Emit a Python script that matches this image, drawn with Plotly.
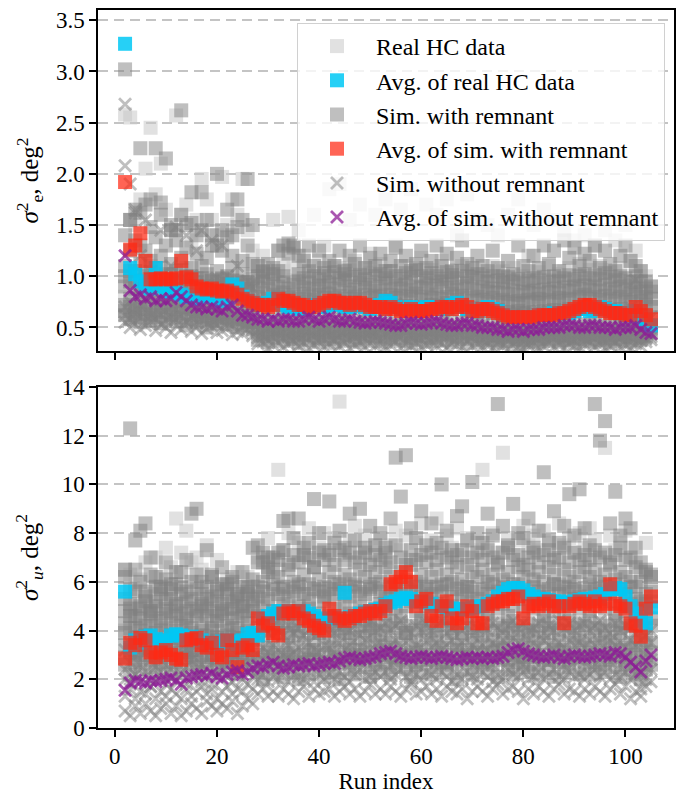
import plotly.graph_objects as go
from plotly.subplots import make_subplots

runs = list(range(2, 106))

# ---------------- top panel (sigma_e^2) ----------------
avg_real_top = [3.27, 1.08, 1.02, 0.95, 0.90, 0.88, 1.08, 0.90, 0.86, 0.85,
 0.84, 0.82, 0.80, 0.80, 0.78, 0.80, 0.82, 0.80, 0.78, 0.76,
 0.78, 0.92, 0.88, 0.80, 0.76, 0.74, 0.72, 0.72, 0.74, 0.78,
 0.75, 0.72, 0.70, 0.70, 0.68, 0.70, 0.70, 0.72, 0.72, 0.70,
 0.72, 0.74, 0.72, 0.70, 0.70, 0.72, 0.72, 0.70, 0.68, 0.70,
 0.72, 0.76, 0.74, 0.70, 0.68, 0.68, 0.70, 0.68, 0.68, 0.70,
 0.70, 0.70, 0.68, 0.70, 0.72, 0.74, 0.70, 0.68, 0.66, 0.66,
 0.68, 0.70, 0.68, 0.66, 0.62, 0.60, 0.60, 0.60, 0.60, 0.60,
 0.60, 0.62, 0.62, 0.62, 0.64, 0.64, 0.64, 0.64, 0.66, 0.68,
 0.68, 0.66, 0.68, 0.70, 0.68, 0.66, 0.66, 0.64, 0.62, 0.62,
 0.66, 0.60, 0.58, 0.52]

avg_rem_top = [1.92, 1.26, 1.30, 1.42, 1.15, 0.97, 0.97, 0.98, 0.97, 0.97,
 0.98, 1.15, 0.99, 0.97, 0.90, 0.88, 0.87, 0.88, 0.86, 0.85,
 0.86, 0.84, 0.82, 0.78, 0.76, 0.74, 0.72, 0.72, 0.70, 0.72,
 0.78, 0.76, 0.76, 0.74, 0.72, 0.72, 0.70, 0.70, 0.72, 0.74,
 0.76, 0.76, 0.74, 0.74, 0.72, 0.74, 0.74, 0.72, 0.70, 0.70,
 0.70, 0.68, 0.70, 0.68, 0.66, 0.66, 0.68, 0.66, 0.66, 0.66,
 0.68, 0.68, 0.70, 0.70, 0.68, 0.70, 0.72, 0.70, 0.66, 0.66,
 0.68, 0.68, 0.66, 0.64, 0.62, 0.60, 0.60, 0.60, 0.60, 0.60,
 0.60, 0.62, 0.62, 0.62, 0.62, 0.64, 0.64, 0.66, 0.68, 0.70,
 0.72, 0.72, 0.70, 0.68, 0.66, 0.64, 0.64, 0.64, 0.62, 0.62,
 0.70, 0.66, 0.62, 0.58]

avg_norem_top = [1.20, 0.86, 0.80, 0.82, 0.78, 0.80, 0.76, 0.78, 0.76, 0.78,
 0.84, 0.80, 0.76, 0.72, 0.70, 0.70, 0.68, 0.70, 0.68, 0.66,
 0.70, 0.72, 0.66, 0.62, 0.62, 0.60, 0.58, 0.58, 0.56, 0.58,
 0.56, 0.58, 0.58, 0.56, 0.56, 0.58, 0.60, 0.58, 0.56, 0.58,
 0.60, 0.58, 0.56, 0.56, 0.58, 0.56, 0.55, 0.54, 0.55, 0.56,
 0.55, 0.54, 0.53, 0.52, 0.52, 0.54, 0.55, 0.54, 0.53, 0.54,
 0.55, 0.56, 0.54, 0.53, 0.52, 0.52, 0.54, 0.54, 0.52, 0.52,
 0.50, 0.50, 0.50, 0.48, 0.48, 0.46, 0.48, 0.48, 0.46, 0.48,
 0.48, 0.48, 0.50, 0.50, 0.50, 0.50, 0.52, 0.52, 0.52, 0.50,
 0.50, 0.52, 0.52, 0.50, 0.50, 0.50, 0.48, 0.50, 0.50, 0.50,
 0.52, 0.48, 0.45, 0.44]

sim_rem_top_a = [.62, .58, .60, .55, .63, .57, .60, .54, .58, .62,
 .56, .60, .52, .58, .55, .61, .50, .57, .54, .59,
 .53, .58, .50, .55, .52, .48, .38, .42, .36, .40,
 .44, .37, .41, .39, .35, .43, .38, .40, .36, .42,
 .39, .35, .41, .37, .43, .38, .36, .40, .42, .37,
 .41, .36, .39, .43, .37, .40, .35, .38, .42, .36,
 .40, .37, .43, .38, .36, .41, .39, .35, .42, .38,
 .36, .40, .38, .35, .41, .37, .39, .34, .38, .36,
 .40, .35, .39, .37, .42, .36, .38, .40, .35, .39,
 .37, .41, .36, .38, .40, .35, .39, .37, .41, .36,
 .40, .38, .42, .45]
sim_rem_top_b = [.72, .78, .70, .75, .68, .80, .74, .70, .77, .72,
 .76, .70, .74, .68, .72, .66, .70, .64, .68, .70,
 .66, .70, .64, .62, .66, .60, .55, .58, .52, .56,
 .54, .58, .52, .56, .55, .50, .57, .53, .55, .51,
 .56, .52, .55, .58, .53, .51, .56, .54, .50, .55,
 .53, .57, .51, .54, .52, .55, .50, .53, .56, .52,
 .55, .51, .54, .57, .52, .50, .55, .53, .51, .54,
 .52, .50, .48, .53, .50, .47, .51, .49, .48, .52,
 .50, .53, .48, .51, .49, .52, .50, .54, .51, .49,
 .53, .51, .55, .50, .52, .49, .54, .51, .50, .52,
 .55, .50, .48, .52]
sim_rem_top_c = [.90, .95, .88, .85, .92, .98, .86, .90, .84, .93,
 .88, .95, .86, .90, .82, .87, .80, .85, .83, .88,
 .80, .84, .82, .78, .85, .76, .72, .74, .70, .75,
 .72, .76, .70, .73, .71, .75, .69, .72, .74, .70,
 .73, .70, .75, .72, .69, .74, .71, .70, .73, .68,
 .71, .68, .72, .70, .67, .71, .69, .66, .70, .68,
 .72, .69, .71, .74, .68, .70, .72, .67, .69, .65,
 .68, .66, .64, .67, .63, .65, .62, .66, .64, .63,
 .65, .62, .66, .64, .67, .63, .66, .68, .65, .70,
 .72, .68, .70, .66, .69, .67, .65, .68, .64, .66,
 .70, .66, .62, .60]
sim_rem_top_d = [1.10, 1.25, 1.05, 1.30, 1.00, 1.15, 1.08, 1.20, 1.02, 1.12,
 1.05, 1.18, 1.00, 1.08, 0.98, 1.10, 1.02, 0.96, 1.05, 0.98,
 1.00, 1.08, 0.95, 1.02, 0.94, 0.98, 0.90, 0.95, 0.88, 0.92,
 0.90, 0.94, 0.88, 0.92, 0.95, 0.89, 0.93, 0.87, 0.91, 0.90,
 0.94, 0.88, 0.92, 0.96, 0.90, 0.87, 0.93, 0.89, 0.91, 0.86,
 0.90, 0.93, 0.87, 0.91, 0.88, 0.92, 0.86, 0.90, 0.89, 0.93,
 0.88, 0.91, 0.95, 0.89, 0.92, 0.87, 0.90, 0.93, 0.88, 0.86,
 0.89, 0.85, 0.88, 0.84, 0.87, 0.83, 0.86, 0.82, 0.85, 0.84,
 0.86, 0.83, 0.87, 0.85, 0.88, 0.84, 0.89, 0.86, 0.90, 0.88,
 0.91, 0.87, 0.90, 0.86, 0.92, 0.88, 0.85, 0.90, 0.87, 0.84,
 0.90, 0.85, 0.80, 0.78]
sim_rem_top_e = [3.02, 1.55, 1.65, 2.25, 1.70, 1.75, 2.25, 1.60, 2.15, 1.50,
 1.45, 2.62, 1.50, 1.82, 1.40, 1.82, 1.55, 1.30, 2.00, 1.45,
 1.65, 1.40, 1.75, 1.55, 1.95, 1.50, 1.10, 1.05, 1.12, 1.08,
 1.25, 1.30, 1.32, 1.28, 1.20, 1.15, 1.30, 1.10, 1.25, 1.08,
 1.15, 1.10, 1.25, 1.05, 1.20, 1.12, 1.30, 1.08, 1.18, 1.10,
 1.22, 1.05, 1.15, 1.28, 1.10, 1.20, 1.05, 1.12, 1.25, 1.08,
 1.15, 1.30, 1.10, 1.22, 1.05, 1.18, 1.35, 1.12, 1.08, 1.20,
 1.10, 1.05, 1.25, 1.08, 1.00, 1.15, 1.02, 1.30, 1.10, 1.05,
 1.20, 1.08, 1.30, 1.12, 1.25, 1.05, 1.35, 1.18, 1.28, 1.10,
 1.22, 1.15, 1.30, 1.08, 1.25, 1.12, 1.05, 1.20, 1.30, 1.15,
 1.10, 1.05, 0.95, 0.90]
sim_rem_top_f = [.66, .70, .64, .68, .72, .62, .67, .65, .70, .63,
 .68, .64, .70, .62, .66, .60, .64, .58, .63, .61,
 .60, .64, .58, .61, .57, .55, .46, .50, .44, .48,
 .47, .50, .45, .48, .44, .47, .50, .45, .48, .46,
 .49, .45, .47, .50, .46, .44, .48, .46, .49, .45,
 .47, .50, .45, .48, .46, .49, .44, .47, .45, .48,
 .46, .49, .47, .44, .48, .45, .50, .46, .44, .47,
 .45, .43, .46, .42, .45, .43, .41, .44, .42, .45,
 .43, .46, .42, .44, .47, .43, .45, .42, .46, .44,
 .45, .43, .47, .44, .42, .46, .43, .45, .44, .47,
 .48, .44, .46, .50]
sim_rem_top_g = [1.00, 1.05, .96, 1.12, .98, 1.04, .95, 1.08, .97, 1.02,
 .96, 1.06, .92, 1.00, .94, .98, .90, .95, .92, .97,
 .93, .96, .90, .94, .88, .92, .80, .84, .78, .82,
 .80, .84, .79, .82, .78, .83, .80, .77, .82, .79,
 .83, .79, .81, .78, .84, .80, .78, .82, .79, .81,
 .80, .77, .82, .79, .81, .78, .80, .83, .77, .80,
 .79, .82, .78, .80, .83, .77, .81, .79, .76, .80,
 .77, .75, .79, .74, .77, .75, .73, .76, .74, .77,
 .75, .78, .74, .77, .75, .79, .76, .78, .77, .80,
 .82, .78, .80, .77, .81, .78, .76, .80, .77, .75,
 .82, .76, .72, .70]
sim_rem_top_h = [1.40, 1.55, 1.35, 1.62, 1.25, 1.48, 1.38, 1.72, 1.30, 1.45,
 1.35, 1.60, 1.28, 1.52, 1.22, 1.45, 1.18, 1.40, 1.30, 1.25,
 1.38, 1.20, 1.48, 1.15, 1.30, 1.12, 1.00, 1.04, 0.98, 1.02,
 1.05, 1.00, 1.22, 1.30, 1.02, 0.98, 1.05, 1.00, 0.97, 1.03,
 1.00, 1.04, 0.98, 1.02, 1.06, 0.99, 1.01, 0.97, 1.04, 1.00,
 1.02, 0.98, 1.05, 1.00, 0.97, 1.03, 0.99, 1.06, 1.00, 0.98,
 1.03, 1.00, 0.97, 1.04, 1.01, 0.98, 1.05, 1.00, 0.99, 1.02,
 0.98, 0.95, 1.00, 0.96, 0.94, 0.99, 0.95, 0.97, 0.93, 0.96,
 0.98, 0.94, 0.99, 0.96, 1.00, 0.95, 0.98, 1.01, 0.97, 1.00,
 1.02, 0.98, 1.01, 0.97, 1.03, 0.99, 0.96, 1.00, 0.98, 0.95,
 1.00, 0.95, 0.88, 0.85]

real_top_a = [.80, .95, 1.05, .88, .75, 1.10, .92, .85, 1.00, .78,
 .95, .82, 1.08, .76, .90, .84, .98, .80, .88, .92,
 .86, .78, .94, .82, .88, .74, .82, .98, .76, 1.02,
 .85, 1.05, .78, .96, .80, 1.10, .88, .75, 1.00, .84,
 .92, .78, 1.08, .85, .98, .80, 1.02, .76, .94, .88,
 1.05, .82, .96, .78, 1.00, .86, .92, 1.08, .80, .95,
 .84, 1.02, .78, .98, .88, 1.06, .80, .94, .86, 1.00,
 .78, .92, .84, 1.04, .76, .90, .82, .98, .74, .88,
 .95, .80, 1.00, .84, .92, .78, 1.05, .86, .96, .82,
 1.02, .88, .94, .80, 1.06, .84, .90, .98, .82, .92,
 .88, .80, .74, .70]
real_top_b = [2.58, 2.55, 1.50, 1.75, 2.05, 2.45, 1.80, 2.10, 1.65, 1.45,
 2.57, 1.60, 1.70, 1.35, 1.55, 1.95, 1.75, 1.55, 1.40, 1.97,
 1.50, 1.75, 1.60, 1.95, 1.45, 1.25, 1.10, 1.20, 1.05, 1.55,
 1.25, 1.12, 1.58, 1.08, 1.45, 1.20, 1.04, 1.60, 1.15, 1.30,
 1.85, 1.10, 1.90, 1.06, 1.55, 1.15, 1.70, 1.08, 1.22, 1.60,
 1.12, 1.75, 1.05, 1.30, 1.65, 1.10, 1.85, 1.08, 1.18, 1.70,
 1.06, 1.60, 1.15, 1.75, 1.04, 1.40, 1.10, 1.80, 1.06, 1.55,
 1.02, 1.50, 1.10, 1.40, 1.05, 1.60, 1.08, 1.75, 1.00, 1.20,
 1.50, 1.04, 1.65, 1.10, 1.55, 1.02, 1.45, 1.08, 1.35, 1.12,
 1.40, 1.06, 1.30, 1.10, 1.45, 1.04, 1.35, 1.08, 1.50, 1.15,
 1.25, 1.05, 1.00, 0.90]

norem_top_a = [.55, .50, .58, .48, .52, .56, .47, .53, .50, .45,
 .52, .48, .55, .46, .50, .44, .49, .52, .45, .47,
 .50, .43, .46, .44, .48, .42, .34, .36, .30, .33,
 .35, .31, .34, .37, .32, .35, .30, .33, .36, .31,
 .34, .37, .32, .35, .30, .33, .36, .31, .34, .32,
 .35, .31, .33, .36, .30, .34, .32, .35, .31, .33,
 .36, .32, .34, .30, .35, .33, .31, .36, .32, .34,
 .31, .33, .30, .34, .32, .29, .33, .31, .30, .32,
 .34, .30, .32, .35, .31, .33, .30, .34, .32, .31,
 .33, .35, .31, .34, .30, .32, .35, .31, .33, .30,
 .34, .32, .36, .38]
norem_top_b = [.70, .75, .68, .72, .78, .66, .74, .70, .65, .72,
 .68, .74, .66, .70, .64, .68, .62, .66, .60, .64,
 .62, .58, .64, .56, .60, .55, .48, .45, .50, .46,
 .48, .45, .50, .47, .44, .49, .46, .48, .45, .50,
 .47, .44, .49, .46, .48, .45, .50, .47, .44, .46,
 .48, .45, .47, .44, .49, .46, .43, .47, .45, .48,
 .46, .49, .44, .47, .45, .48, .46, .43, .47, .45,
 .44, .42, .45, .41, .43, .40, .44, .42, .41, .43,
 .42, .44, .41, .45, .43, .40, .44, .42, .45, .43,
 .44, .42, .46, .43, .45, .41, .44, .42, .43, .41,
 .45, .42, .40, .43]
norem_top_c = [2.68, 1.90, 1.65, 1.20, 1.55, 1.05, 1.00, 1.45, 0.95, 1.10,
 1.48, 0.95, 1.40, 1.00, 1.25, 1.45, 0.92, 1.35, 0.98, 1.30,
 1.00, 0.90, 1.10, 0.85, 0.95, 0.88, 0.68, 0.72, 0.65, 0.70,
 0.66, 0.74, 0.62, 0.70, 0.68, 0.64, 0.72, 0.66, 0.70, 0.63,
 0.68, 0.72, 0.65, 0.70, 0.74, 0.66, 0.69, 0.64, 0.71, 0.67,
 0.70, 0.65, 0.68, 0.73, 0.66, 0.70, 0.64, 0.68, 0.72, 0.65,
 0.69, 0.73, 0.66, 0.70, 0.64, 0.68, 0.71, 0.65, 0.69, 0.66,
 0.64, 0.68, 0.62, 0.66, 0.60, 0.64, 0.61, 0.65, 0.62, 0.60,
 0.63, 0.66, 0.61, 0.65, 0.62, 0.67, 0.63, 0.66, 0.64, 0.68,
 0.66, 0.63, 0.67, 0.64, 0.68, 0.62, 0.65, 0.63, 0.66, 0.70,
 0.96, 0.62, 0.58, 0.60]
norem_top_d = [.62, .58, .64, .60, .56, .62, .59, .63, .57, .60,
 .58, .62, .56, .60, .55, .58, .54, .57, .53, .56,
 .55, .52, .56, .50, .53, .48, .40, .42, .38, .41,
 .42, .39, .41, .43, .38, .41, .39, .42, .40, .38,
 .41, .39, .42, .40, .38, .41, .43, .39, .40, .42,
 .39, .42, .40, .38, .41, .39, .42, .40, .38, .41,
 .40, .38, .41, .43, .39, .40, .42, .38, .41, .39,
 .38, .36, .39, .37, .35, .38, .36, .39, .37, .35,
 .37, .39, .36, .38, .40, .37, .39, .36, .38, .40,
 .39, .37, .40, .38, .36, .39, .37, .40, .38, .36,
 .40, .37, .39, .41]
norem_top_extra_runs = [2, 4]
norem_top_extra_vals = [2.08, 1.62]

# ---------------- bottom panel (sigma_u^2) ----------------
avg_real_bot = [5.60, 3.30, 3.60, 3.50, 3.75, 3.80, 3.65, 3.55, 3.60, 3.80,
 3.85, 3.80, 3.70, 3.75, 3.65, 3.60, 3.50, 3.45, 3.45, 3.55,
 3.60, 3.55, 3.45, 3.60, 3.85, 3.90, 3.80, 4.50, 4.60, 4.70,
 4.80, 4.80, 4.75, 4.80, 4.80, 4.80, 4.70, 4.60, 4.50, 4.45,
 4.50, 4.55, 4.50, 5.55, 4.55, 4.60, 4.70, 4.75, 4.80, 4.85,
 4.90, 5.05, 5.15, 5.20, 5.30, 5.35, 5.30, 5.20, 5.20, 5.15,
 5.10, 5.00, 5.00, 4.95, 4.90, 4.90, 4.85, 4.90, 4.95, 5.00,
 5.00, 5.10, 5.20, 5.40, 5.55, 5.70, 5.75, 5.75, 5.65, 5.50,
 5.40, 5.30, 5.30, 5.25, 5.20, 5.20, 5.15, 5.15, 5.20, 5.25,
 5.30, 5.30, 5.35, 5.40, 5.50, 5.70, 5.75, 5.70, 5.40, 5.00,
 4.70, 4.40, 4.30, 4.95]

avg_rem_bot = [2.85, 3.50, 3.40, 3.70, 3.60, 3.10, 2.90, 3.10, 3.20, 3.00,
 2.85, 2.80, 3.60, 3.65, 3.70, 3.40, 3.30, 3.50, 3.00, 2.90,
 3.60, 3.20, 2.50, 3.30, 3.40, 3.20, 4.50, 4.20, 4.30, 3.90,
 3.80, 4.70, 4.80, 4.70, 4.80, 4.50, 4.40, 4.20, 4.10, 4.00,
 4.90, 4.60, 4.50, 4.40, 4.50, 4.60, 4.60, 4.70, 4.80, 4.70,
 4.80, 5.00, 5.90, 6.00, 6.20, 6.40, 6.00, 5.00, 5.20, 5.30,
 4.60, 4.40, 5.00, 5.20, 4.50, 4.30, 4.50, 5.00, 4.80, 4.30,
 4.30, 5.00, 5.10, 5.20, 5.20, 5.30, 5.30, 5.40, 4.50, 5.00,
 5.10, 5.00, 5.10, 5.20, 5.00, 5.00, 4.30, 5.00, 5.10, 5.20,
 5.10, 5.00, 5.20, 5.00, 5.10, 5.90, 5.10, 5.00, 4.90, 4.30,
 4.20, 3.75, 4.90, 5.40]

avg_norem_bot = [1.55, 1.85, 1.95, 1.90, 1.85, 1.95, 1.90, 1.95, 2.00, 2.05,
 1.95, 1.80, 2.05, 2.10, 2.15, 2.20, 2.15, 2.25, 2.10, 2.05,
 2.20, 2.30, 2.35, 2.20, 2.30, 2.45, 2.55, 2.50, 2.60, 2.70,
 2.55, 2.45, 2.50, 2.60, 2.55, 2.60, 2.65, 2.55, 2.60, 2.65,
 2.70, 2.65, 2.75, 2.85, 2.90, 2.85, 2.80, 2.85, 2.90, 2.95,
 3.05, 3.10, 3.15, 3.05, 2.95, 2.90, 2.85, 2.90, 2.95, 2.90,
 2.85, 2.90, 2.95, 2.90, 2.85, 2.80, 2.85, 2.90, 2.85, 2.90,
 2.85, 2.90, 2.85, 2.90, 2.95, 3.10, 3.20, 3.25, 3.15, 3.05,
 3.00, 2.95, 2.90, 2.95, 3.00, 2.90, 2.85, 2.95, 3.00, 2.95,
 2.90, 2.95, 3.00, 3.05, 3.00, 2.95, 3.10, 3.05, 2.90, 2.70,
 2.50, 2.30, 2.75, 3.00]

sim_rem_bot_a = [2.6, 2.2, 2.8, 2.4, 3.0, 2.5, 2.3, 2.9, 2.6, 2.2,
 2.7, 2.4, 3.0, 2.5, 2.8, 2.3, 2.6, 2.9, 2.4, 2.7,
 2.5, 2.8, 2.2, 2.6, 2.9, 2.4, 2.3, 2.0, 2.6, 2.2,
 2.5, 2.1, 2.7, 2.3, 2.0, 2.6, 2.2, 2.8, 2.4, 2.1,
 2.6, 2.3, 2.0, 2.7, 2.4, 2.2, 2.8, 2.5, 2.1, 2.6,
 2.3, 2.7, 2.2, 2.5, 2.9, 2.4, 2.1, 2.6, 2.3, 2.8,
 2.2, 2.5, 2.7, 2.3, 2.6, 2.0, 2.4, 2.8, 2.2, 2.5,
 2.7, 2.3, 2.6, 2.1, 2.8, 2.4, 2.2, 2.7, 2.5, 2.3,
 2.6, 2.2, 2.8, 2.4, 2.1, 2.7, 2.3, 2.5, 2.9, 2.2,
 2.4, 2.7, 2.2, 2.6, 2.3, 2.8, 2.5, 2.1, 2.6, 2.4,
 2.2, 2.0, 2.4, 2.6]
sim_rem_bot_b = [3.4, 3.1, 3.6, 3.2, 3.8, 3.3, 3.0, 3.5, 3.2, 3.7,
 3.3, 3.6, 3.1, 3.5, 3.2, 3.8, 3.4, 3.0, 3.6, 3.3,
 3.5, 3.1, 3.7, 3.2, 3.4, 3.6, 3.5, 3.8, 3.3, 3.6,
 3.9, 3.4, 3.7, 3.3, 3.8, 3.5, 3.2, 3.6, 3.9, 3.4,
 3.7, 3.3, 3.6, 3.9, 3.4, 3.7, 3.2, 3.5, 3.8, 3.6,
 3.4, 3.8, 3.5, 3.3, 3.7, 3.9, 3.4, 3.6, 3.2, 3.8,
 3.5, 3.7, 3.3, 3.6, 3.9, 3.4, 3.7, 3.2, 3.6, 3.5,
 3.8, 3.4, 3.6, 3.3, 3.7, 3.5, 3.9, 3.4, 3.6, 3.8,
 3.3, 3.7, 3.5, 3.9, 3.4, 3.6, 3.2, 3.8, 3.5, 3.7,
 3.6, 3.3, 3.8, 3.5, 3.7, 3.4, 3.6, 3.9, 3.3, 3.5,
 3.4, 3.2, 3.6, 3.5]
sim_rem_bot_c = [4.3, 4.6, 4.1, 4.5, 4.2, 4.8, 4.4, 4.0, 4.7, 4.3,
 4.6, 4.2, 4.5, 4.1, 4.8, 4.3, 4.6, 4.0, 4.4, 4.7,
 4.2, 4.5, 4.1, 4.6, 4.3, 4.8, 4.6, 5.0, 4.4, 4.8,
 4.5, 5.1, 4.7, 4.4, 5.0, 4.6, 4.9, 4.3, 4.7, 5.2,
 4.6, 4.9, 4.4, 5.1, 4.7, 4.5, 5.0, 4.8, 4.4, 4.9,
 5.1, 4.7, 5.3, 4.9, 4.6, 5.0, 5.2, 4.8, 4.5, 5.0,
 4.7, 5.1, 4.8, 4.5, 5.0, 4.7, 4.9, 5.2, 4.6, 4.8,
 5.0, 4.7, 5.2, 4.9, 5.1, 4.6, 5.0, 5.3, 4.8, 5.1,
 4.9, 5.2, 4.6, 5.0, 4.8, 5.1, 4.7, 5.0, 5.3, 4.9,
 5.1, 4.8, 5.0, 5.3, 4.9, 5.2, 4.7, 5.0, 4.8, 5.1,
 4.6, 4.4, 4.8, 4.5]
sim_rem_bot_d = [5.3, 4.9, 5.6, 5.0, 5.4, 4.8, 5.2, 5.7, 4.9, 5.3,
 5.0, 5.5, 4.8, 5.3, 5.7, 5.1, 4.9, 5.4, 5.2, 4.8,
 5.5, 4.9, 5.3, 5.0, 5.6, 5.2, 5.8, 6.0, 6.4, 5.9,
 6.2, 5.7, 6.5, 6.0, 5.8, 6.3, 5.9, 6.6, 6.1, 5.8,
 6.4, 6.0, 5.7, 6.3, 6.1, 5.9, 6.5, 6.2, 5.8, 6.4,
 6.0, 6.6, 6.2, 5.9, 6.4, 6.1, 6.7, 6.0, 6.3, 5.8,
 6.2, 6.5, 5.9, 6.3, 6.0, 6.6, 6.1, 5.8, 6.4, 6.2,
 6.5, 6.0, 6.3, 6.7, 6.1, 6.4, 5.9, 6.6, 6.2, 6.5,
 6.1, 6.4, 6.0, 6.6, 6.3, 5.9, 6.5, 6.2, 6.0, 6.4,
 6.6, 6.2, 6.5, 6.0, 6.3, 6.7, 6.1, 6.4, 6.2, 6.0,
 5.8, 5.2, 5.5, 5.6]
sim_rem_bot_e = [6.5, 12.3, 7.7, 8.1, 8.4, 7.0, 6.2, 5.8, 6.8, 5.9,
 6.4, 5.8, 6.9, 8.8, 9.0, 6.0, 7.3, 6.3, 5.7, 6.6,
 5.9, 6.2, 5.5, 6.4, 5.8, 7.4, 7.5, 6.8, 7.0, 6.5,
 7.2, 8.5, 8.6, 7.8, 8.6, 7.1, 7.6, 9.4, 8.0, 7.3,
 9.3, 7.6, 8.1, 7.4, 8.8, 7.7, 9.0, 7.2, 8.3, 7.5,
 8.0, 7.4, 8.6, 11.1, 9.5, 11.2, 8.2, 7.8, 8.9, 7.5,
 8.4, 7.6, 10.0, 8.1, 7.3, 8.7, 9.1, 7.7, 10.1, 8.0,
 7.6, 8.8, 7.9, 13.3, 8.3, 7.5, 9.2, 8.0, 7.8, 8.6,
 7.4, 8.1, 10.5, 7.7, 8.9, 7.6, 8.3, 9.6, 7.9, 9.8,
 8.2, 7.5, 13.3, 11.8, 12.6, 8.4, 9.7, 7.9, 8.6, 8.2,
 7.4, 6.8, 6.5, 6.3]
sim_rem_bot_f = [2.9, 3.2, 2.7, 3.0, 3.3, 2.8, 3.1, 2.7, 3.0, 3.2,
 2.8, 3.1, 2.9, 3.2, 2.7, 3.0, 2.9, 3.3, 2.8, 3.1,
 3.0, 2.7, 3.1, 2.8, 3.2, 2.9, 3.0, 2.8, 3.1, 2.9,
 3.0, 2.8, 3.1, 2.9, 2.7, 3.0, 2.8, 3.2, 3.0, 2.7,
 3.1, 2.9, 2.8, 3.0, 3.2, 2.8, 3.0, 2.9, 3.1, 2.8,
 3.0, 3.2, 2.9, 2.8, 3.1, 3.0, 2.7, 3.1, 2.9, 3.0,
 2.8, 3.1, 3.0, 2.7, 3.0, 3.2, 2.9, 3.0, 2.8, 3.1,
 3.0, 2.8, 3.1, 2.9, 3.2, 3.0, 2.8, 3.1, 2.9, 3.0,
 3.1, 2.9, 3.0, 2.8, 3.2, 2.9, 3.1, 2.8, 3.0, 3.1,
 2.9, 3.1, 3.0, 2.8, 3.1, 2.9, 3.0, 3.2, 2.8, 3.0,
 2.9, 2.6, 3.0, 3.1]
sim_rem_bot_g = [3.9, 4.1, 3.7, 4.0, 3.8, 4.2, 3.9, 3.6, 4.1, 3.8,
 4.0, 3.7, 4.2, 3.9, 3.6, 4.0, 3.8, 4.1, 3.7, 4.0,
 3.8, 4.1, 3.9, 3.7, 4.0, 3.8, 4.1, 4.3, 4.0, 4.2,
 4.1, 4.3, 3.9, 4.2, 4.0, 4.4, 4.1, 3.9, 4.3, 4.0,
 4.2, 4.0, 4.3, 4.1, 3.9, 4.4, 4.0, 4.2, 4.1, 4.3,
 4.0, 4.2, 4.4, 4.1, 4.3, 3.9, 4.2, 4.0, 4.4, 4.1,
 4.3, 4.0, 4.2, 4.4, 4.1, 4.2, 3.9, 4.3, 4.1, 4.0,
 4.2, 4.4, 4.0, 4.3, 4.1, 4.2, 4.4, 4.0, 4.2, 4.3,
 4.0, 4.2, 4.4, 4.1, 4.3, 4.0, 4.2, 4.4, 4.1, 4.3,
 4.2, 4.4, 4.1, 4.3, 4.0, 4.2, 4.4, 4.1, 4.3, 4.2,
 4.0, 3.8, 4.1, 4.2]
sim_rem_bot_h = [4.8, 5.1, 4.6, 4.9, 5.2, 4.7, 5.0, 4.5, 5.3, 4.8,
 5.1, 4.7, 5.2, 4.9, 4.6, 5.0, 5.3, 4.8, 4.6, 5.1,
 4.9, 5.2, 4.7, 5.0, 4.8, 5.3, 5.4, 5.6, 5.3, 5.7,
 5.5, 5.8, 5.4, 5.6, 5.9, 5.5, 5.3, 5.7, 5.6, 5.4,
 5.7, 5.5, 5.9, 5.6, 5.4, 5.8, 5.6, 5.5, 5.7, 5.9,
 5.6, 5.4, 5.8, 5.7, 5.5, 5.9, 5.6, 5.8, 5.4, 5.7,
 5.5, 5.8, 5.6, 5.9, 5.4, 5.7, 5.5, 5.8, 5.6, 5.3,
 5.7, 5.5, 5.9, 5.6, 5.8, 5.4, 5.7, 5.9, 5.6, 5.5,
 5.8, 5.6, 5.4, 5.7, 5.9, 5.5, 5.8, 5.6, 5.7, 5.4,
 5.6, 5.9, 5.7, 5.5, 5.8, 5.6, 5.9, 5.7, 5.5, 5.8,
 5.3, 4.9, 5.1, 5.2]
sim_rem_bot_i = [6.2, 5.7, 6.5, 6.0, 5.6, 6.3, 5.8, 5.5, 6.1, 5.7,
 5.9, 6.4, 5.6, 6.0, 6.3, 5.5, 5.8, 6.2, 5.6, 5.9,
 5.7, 6.0, 5.4, 5.8, 5.5, 6.1, 6.8, 7.2, 6.6, 7.0,
 6.9, 7.3, 6.7, 7.1, 6.8, 7.4, 7.0, 6.6, 7.2, 6.9,
 7.1, 6.7, 7.3, 6.9, 7.2, 6.8, 7.0, 7.4, 6.7, 7.1,
 6.9, 7.2, 6.8, 7.5, 7.0, 6.7, 7.3, 6.9, 7.1, 6.8,
 7.2, 6.9, 7.4, 7.0, 6.8, 7.1, 7.3, 6.7, 7.0, 7.2,
 6.9, 7.3, 7.0, 6.8, 7.2, 7.4, 6.9, 7.1, 6.7, 7.0,
 7.2, 6.8, 7.1, 7.3, 6.9, 7.0, 7.4, 6.8, 7.2, 6.9,
 7.1, 6.9, 7.3, 7.0, 7.2, 6.8, 7.1, 7.4, 6.9, 7.0,
 6.6, 6.0, 6.4, 6.2]

real_bot_a = [4.0, 4.6, 5.0, 4.4, 5.2, 4.6, 4.9, 4.2, 4.8, 5.5,
 4.5, 5.1, 4.3, 5.4, 4.7, 4.9, 5.2, 4.4, 5.0, 4.6,
 5.3, 4.5, 4.8, 5.1, 4.4, 4.9, 5.0, 5.6, 5.2, 4.8,
 5.4, 5.0, 5.8, 5.3, 4.9, 5.5, 5.2, 5.7, 5.0, 5.6,
 5.3, 5.9, 5.1, 5.5, 5.8, 5.2, 5.6, 5.4, 5.9, 5.1,
 5.7, 5.3, 5.8, 5.5, 6.0, 5.4, 5.7, 5.2, 5.9, 5.6,
 5.4, 5.8, 5.5, 5.2, 5.7, 5.9, 5.3, 5.6, 5.8, 5.4,
 5.6, 5.9, 5.3, 5.7, 5.5, 6.0, 5.8, 5.4, 5.7, 5.5,
 5.8, 5.4, 5.7, 5.5, 5.9, 5.3, 5.6, 5.8, 5.4, 5.7,
 5.5, 5.8, 5.6, 5.3, 5.9, 5.5, 5.7, 5.4, 5.6, 5.2,
 5.0, 4.6, 5.2, 5.8]
real_bot_b = [6.5, 6.3, 5.9, 6.1, 6.8, 5.5, 7.0, 6.2, 7.4, 6.6,
 8.6, 7.2, 8.1, 6.8, 7.0, 6.5, 7.5, 6.2, 6.9, 5.8,
 6.1, 5.9, 6.4, 5.6, 6.2, 5.8, 7.0, 6.9, 7.8, 6.4,
 10.6, 7.3, 8.0, 6.8, 7.6, 7.1, 8.2, 6.9, 7.4, 8.0,
 7.2, 7.8, 13.4, 7.1, 7.7, 8.3, 7.4, 7.9, 6.8, 7.5,
 7.8, 7.0, 7.5, 8.1, 7.3, 7.9, 6.9, 7.6, 8.4, 7.2,
 7.7, 8.6, 7.1, 7.9, 7.4, 8.2, 7.0, 7.8, 7.3, 7.6,
 10.6, 7.4, 8.0, 7.2, 11.3, 7.8, 7.1, 7.7, 8.3, 7.5,
 7.9, 7.3, 8.1, 7.6, 7.0, 8.4, 7.5, 7.8, 7.2, 8.0,
 7.4, 8.2, 7.7, 7.1, 11.5, 7.9, 7.3, 7.6, 8.1, 7.4,
 6.8, 6.4, 7.6, 6.2]

norem_bot_a = [0.7, 0.5, 0.9, 0.6, 1.0, 0.7, 0.5, 0.8, 1.0, 0.6,
 0.9, 0.5, 0.7, 1.0, 0.8, 0.6, 1.1, 0.9, 0.7, 1.0,
 0.8, 1.1, 0.6, 0.9, 1.2, 1.0, 1.4, 1.6, 1.3, 1.5,
 1.3, 1.6, 1.4, 1.2, 1.5, 1.7, 1.3, 1.6, 1.4, 1.5,
 1.6, 1.3, 1.5, 1.7, 1.4, 1.6, 1.3, 1.5, 1.8, 1.4,
 1.6, 1.4, 1.7, 1.5, 1.3, 1.6, 1.8, 1.4, 1.5, 1.7,
 1.4, 1.6, 1.3, 1.7, 1.5, 1.4, 1.6, 1.2, 1.5, 1.7,
 1.5, 1.3, 1.6, 1.8, 1.4, 1.6, 1.7, 1.5, 1.2, 1.6,
 1.4, 1.7, 1.5, 1.3, 1.6, 1.8, 1.4, 1.6, 1.5, 1.3,
 1.6, 1.4, 1.7, 1.5, 1.3, 1.6, 1.8, 1.4, 1.7, 1.2,
 1.5, 1.3, 1.7, 1.9]
norem_bot_b = [1.3, 1.6, 1.2, 1.5, 1.4, 1.7, 1.2, 1.5, 1.3, 1.6,
 1.4, 1.2, 1.6, 1.3, 1.5, 1.7, 1.4, 1.6, 1.2, 1.5,
 1.7, 1.4, 1.6, 1.5, 1.8, 1.6, 2.0, 2.2, 1.9, 2.1,
 2.0, 2.3, 1.9, 2.2, 2.1, 2.0, 2.3, 1.9, 2.2, 2.0,
 2.2, 2.0, 2.3, 2.1, 1.9, 2.2, 2.4, 2.0, 2.1, 2.3,
 2.1, 2.3, 2.0, 2.2, 2.4, 2.1, 1.9, 2.2, 2.0, 2.3,
 2.2, 2.0, 2.3, 2.1, 1.9, 2.2, 2.0, 2.3, 2.1, 2.0,
 2.3, 2.1, 1.9, 2.2, 2.0, 2.4, 2.2, 2.1, 2.3, 2.0,
 2.1, 2.3, 2.0, 2.2, 2.4, 2.1, 2.0, 2.3, 2.1, 2.2,
 2.0, 2.2, 2.4, 2.1, 2.3, 2.0, 2.2, 2.1, 2.3, 2.0,
 2.2, 1.6, 2.0, 2.4]
norem_bot_c = [2.4, 2.7, 2.2, 2.6, 2.3, 2.8, 2.5, 2.1, 2.6, 2.4,
 2.7, 2.3, 2.5, 2.8, 2.2, 2.6, 2.4, 2.7, 2.3, 2.5,
 2.6, 2.8, 2.4, 2.7, 2.5, 2.9, 3.0, 3.3, 3.1, 3.4,
 3.2, 3.0, 3.4, 3.1, 3.3, 3.0, 3.5, 3.2, 3.1, 3.4,
 3.3, 3.1, 3.5, 3.2, 3.4, 3.0, 3.3, 3.6, 3.2, 3.4,
 3.5, 3.2, 3.4, 3.6, 3.3, 3.5, 3.1, 3.4, 3.3, 3.6,
 3.3, 3.5, 3.2, 3.4, 3.6, 3.3, 3.5, 3.1, 3.4, 3.2,
 3.4, 3.2, 3.5, 3.3, 3.6, 3.4, 3.7, 3.5, 3.3, 3.6,
 3.5, 3.3, 3.6, 3.4, 3.2, 3.5, 3.3, 3.6, 3.4, 3.5,
 3.3, 3.6, 3.4, 3.5, 3.2, 3.6, 3.4, 3.5, 3.3, 3.6,
 3.4, 2.8, 3.2, 3.5]
norem_bot_d = [3.2, 3.5, 3.0, 3.4, 3.1, 3.6, 2.9, 3.3, 3.0, 3.4,
 3.1, 3.5, 3.2, 3.0, 3.4, 3.2, 3.6, 3.1, 3.3, 3.0,
 3.4, 3.2, 3.0, 3.5, 3.3, 3.6, 3.8, 4.1, 3.9, 4.2,
 4.0, 3.8, 4.2, 3.9, 4.1, 3.8, 4.0, 4.3, 3.9, 4.1,
 4.2, 3.9, 4.1, 4.3, 4.0, 4.2, 3.8, 4.1, 4.4, 4.0,
 4.1, 4.3, 4.0, 4.2, 4.4, 4.1, 3.9, 4.2, 4.0, 4.3,
 4.0, 4.2, 4.4, 3.9, 4.1, 4.3, 4.0, 4.2, 3.8, 4.1,
 4.2, 4.0, 4.3, 4.1, 3.9, 4.2, 4.4, 4.1, 4.3, 4.0,
 4.1, 4.3, 3.9, 4.2, 4.0, 4.4, 4.1, 4.3, 4.0, 4.2,
 4.3, 4.0, 4.2, 4.4, 4.1, 3.9, 4.3, 4.0, 4.2, 4.1,
 3.9, 3.6, 3.8, 4.0]
norem_bot_e = [2.0, 1.8, 2.2, 1.9, 2.1, 1.7, 2.0, 2.3, 1.8, 2.1,
 1.9, 2.2, 1.8, 2.0, 2.3, 1.9, 2.1, 1.8, 2.2, 2.0,
 2.1, 1.9, 2.2, 2.0, 2.3, 2.1, 2.6, 2.8, 2.5, 2.7,
 2.8, 2.6, 2.9, 2.7, 2.5, 2.8, 2.6, 2.9, 2.7, 2.8,
 2.6, 2.9, 2.7, 2.8, 2.6, 3.0, 2.7, 2.8, 2.6, 2.9,
 2.7, 2.9, 2.6, 2.8, 3.0, 2.7, 2.9, 2.6, 2.8, 2.7,
 2.9, 2.7, 2.8, 2.6, 2.9, 2.7, 2.8, 3.0, 2.6, 2.8,
 2.7, 2.9, 2.6, 2.8, 3.0, 2.7, 2.9, 2.8, 2.6, 2.9,
 2.8, 2.6, 2.9, 2.7, 2.8, 3.0, 2.6, 2.9, 2.7, 2.8,
 2.7, 2.9, 2.6, 2.8, 3.0, 2.7, 2.9, 2.6, 2.8, 2.7,
 2.6, 2.2, 2.5, 2.8]

names = ["Real HC data", "Avg. of real HC data", "Sim. with remnant",
         "Avg. of sim. with remnant", "Sim. without remnant",
         "Avg. of sim. without remnant"]

C_REAL = "rgba(200,200,200,0.55)"
C_SIM = "rgba(128,128,128,0.5)"
C_CYAN = "rgba(0,200,245,0.85)"
C_RED = "rgba(255,40,20,0.72)"
C_PURP = "rgba(140,30,150,0.75)"

FONT = "Liberation Serif"

fig = make_subplots(rows=2, cols=1, shared_xaxes=False, vertical_spacing=0.05)


def stack(layers, extra_x=None, extra_y=None):
    xs, ys = [], []
    for lay in layers:
        assert len(lay) == len(runs), len(lay)
        xs += runs
        ys += lay
    if extra_x:
        xs += extra_x
        ys += extra_y
    return xs, ys


def sq(color, size=14):
    return dict(symbol="square", size=size, color=color, line=dict(width=0))


def xm(color, size=12):
    return dict(symbol="x-thin", size=size, color=color, line=dict(width=2.8, color=color))


panels = [
    dict(row=1, real=[real_top_a, real_top_b],
         sim=[sim_rem_top_a, sim_rem_top_f, sim_rem_top_b, sim_rem_top_c, sim_rem_top_g,
              sim_rem_top_d, sim_rem_top_h, sim_rem_top_e],
         norem=[norem_top_a, norem_top_d, norem_top_b, norem_top_c],
         nx=norem_top_extra_runs, ny=norem_top_extra_vals,
         avg=[avg_real_top, avg_rem_top, avg_norem_top]),
    dict(row=2, real=[real_bot_a, real_bot_b],
         sim=[sim_rem_bot_a, sim_rem_bot_f, sim_rem_bot_b, sim_rem_bot_g, sim_rem_bot_c,
              sim_rem_bot_h, sim_rem_bot_d, sim_rem_bot_i, sim_rem_bot_e],
         norem=[norem_bot_a, norem_bot_b, norem_bot_e, norem_bot_c, norem_bot_d],
         nx=None, ny=None,
         avg=[avg_real_bot, avg_rem_bot, avg_norem_bot]),
]

for p in panels:
    show = p["row"] == 1
    r = p["row"]
    x, y = stack(p["real"])
    fig.add_trace(go.Scatter(x=x, y=y, mode="markers", marker=sq(C_REAL), name=names[0],
                             legendgroup="g0", legendrank=1, showlegend=show), row=r, col=1)
    x, y = stack(p["sim"])
    fig.add_trace(go.Scatter(x=x, y=y, mode="markers", marker=sq(C_SIM), name=names[2],
                             legendgroup="g2", legendrank=3, showlegend=show), row=r, col=1)
    x, y = stack(p["norem"], p["nx"], p["ny"])
    fig.add_trace(go.Scatter(x=x, y=y, mode="markers", marker=xm(C_SIM), name=names[4],
                             legendgroup="g4", legendrank=5, showlegend=show), row=r, col=1)
    fig.add_trace(go.Scatter(x=runs, y=p["avg"][0], mode="markers", marker=sq(C_CYAN), name=names[1],
                             legendgroup="g1", legendrank=2, showlegend=show), row=r, col=1)
    fig.add_trace(go.Scatter(x=runs, y=p["avg"][1], mode="markers", marker=sq(C_RED), name=names[3],
                             legendgroup="g3", legendrank=4, showlegend=show), row=r, col=1)
    fig.add_trace(go.Scatter(x=runs, y=p["avg"][2], mode="markers", marker=xm(C_PURP), name=names[5],
                             legendgroup="g5", legendrank=6, showlegend=show), row=r, col=1)

axis_common = dict(showline=True, linecolor="black", linewidth=1.5, mirror=True,
                   ticks="outside", ticklen=7, tickwidth=1.5, tickcolor="black",
                   zeroline=False, tickfont=dict(family=FONT, size=23, color="black"))

H = 795
mt, mb = 10, 67
ph = H - mt - mb
top_dom = [(728 - 351) / ph, 1.0]
bot_dom = [0.0, (728 - 387) / ph]

fig.update_xaxes(range=[-3.3, 109.5], tickvals=[0, 20, 40, 60, 80, 100], showgrid=False, **axis_common)
fig.update_xaxes(showticklabels=False, row=1, col=1)
fig.update_xaxes(title=dict(text="Run index", font=dict(family=FONT, size=23, color="black"), standoff=0),
                 row=2, col=1)

grid = dict(showgrid=True, gridcolor="#c4c4c4", gridwidth=2, griddash="10px,6px")
fig.update_yaxes(range=[0.27, 3.6], tickvals=[0.5, 1.0, 1.5, 2.0, 2.5, 3.0, 3.5], tickformat=".1f",
                 domain=top_dom, row=1, col=1, **grid, **axis_common,
                 title=dict(text="<i>σ</i><sup>2</sup><sub>e</sub>, deg<sup>2</sup>",
                            font=dict(family=FONT, size=25, color="black"), standoff=10))
fig.update_yaxes(range=[0, 14], tickvals=[0, 2, 4, 6, 8, 10, 12, 14],
                 domain=bot_dom, row=2, col=1, **grid, **axis_common,
                 title=dict(text="<i>σ</i><sup>2</sup><sub><i>u</i></sub>, deg<sup>2</sup>",
                            font=dict(family=FONT, size=25, color="black"), standoff=16))

fig.update_layout(
    width=676, height=795,
    margin=dict(l=98, r=2, t=mt, b=mb, autoexpand=False),
    plot_bgcolor="white", paper_bgcolor="white",
    font=dict(family=FONT, size=23, color="black"),
    legend=dict(x=(665 - 98) / 576, y=1 - (23 - mt) / ph, xanchor="right", yanchor="top",
                bgcolor="rgba(255,255,255,0.8)", bordercolor="#d0d0d0", borderwidth=1,
                font=dict(family=FONT, size=24, color="black"), tracegroupgap=4,
                itemwidth=68, traceorder="normal"),
    showlegend=True,
)

fig.write_html("out.html")
